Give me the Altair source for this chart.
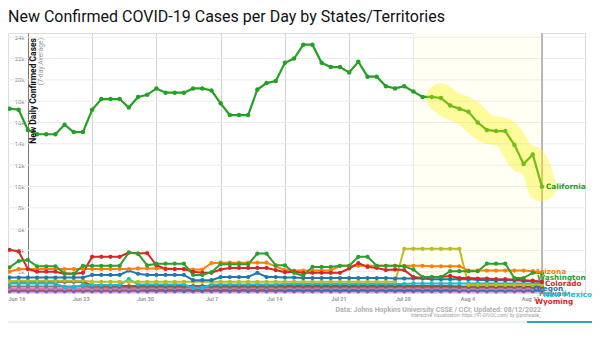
import altair as alt
import pandas as pd

# ---------------- data (thousands of cases, 7-day average) ----------------
dates = pd.date_range("2022-06-14", "2022-08-11", freq="D")

california = [17.3, 17.2, 15.3, 14.9, 14.9, 14.9, 15.8, 15.1, 15.1,
              17.2, 18.2, 18.2, 18.2, 17.4, 18.4, 18.6,
              19.2, 18.8, 18.8, 18.8, 19.2, 19.2, 19.0,
              17.8, 16.7, 16.7, 16.7, 19.1, 19.7, 19.9,
              21.6, 22.0, 23.3, 23.3, 21.6, 21.2, 21.2,
              20.7, 21.7, 20.3, 20.3, 19.4, 19.2, 19.4,
              18.9, 18.4, 18.4, 18.3, 17.6, 17.3, 17.0,
              16.0, 15.3, 15.2, 15.2, 13.9, 12.1, 13.0, 9.97]
colorado = [4.05, 3.9, 2.25, 2.0, 2.0, 2.0, 1.8, 1.8, 1.9,
            3.4, 3.4, 3.4, 3.4, 3.8, 3.7, 3.75,
            2.6, 2.25, 2.25, 2.25, 2.0, 1.9, 1.9,
            2.2, 2.35, 2.35, 2.35, 2.35, 2.35, 2.15,
            1.95, 2.0, 1.9, 1.9, 1.9, 1.9, 1.9,
            2.3, 2.8, 2.45, 2.35, 2.15, 2.2, 2.15,
            1.5, 1.4, 1.5, 1.5, 1.6, 1.4, 1.4,
            1.35, 1.35, 1.3, 1.3, 1.25, 1.2, 1.15, 1.05]
washington = [2.4, 3.0, 3.1, 2.5, 2.5, 2.5, 1.85, 1.8, 2.55,
              2.55, 2.55, 2.55, 2.55, 3.8, 3.7, 2.6,
              2.75, 2.75, 2.75, 2.75, 1.7, 1.7, 1.95,
              2.7, 2.7, 2.7, 2.7, 3.7, 3.7, 2.6,
              2.6, 1.9, 1.6, 2.45, 2.45, 2.45, 2.55,
              2.55, 3.4, 3.4, 2.55, 2.55, 2.55, 2.5,
              2.2, 1.5, 1.5, 1.5, 2.05, 2.05, 2.05,
              2.05, 2.75, 2.75, 2.75, 1.4, 1.4, 1.9, 1.85]
arizona = [2.0, 2.25, 2.25, 2.25, 2.25, 2.25, 2.25, 2.25, 2.25,
           2.25, 2.25, 2.25, 2.25, 2.25, 2.3, 2.3,
           2.3, 2.3, 2.25, 2.25, 2.2, 2.2, 2.8,
           2.85, 2.85, 2.85, 2.85, 2.85, 2.85, 2.5,
           2.15, 2.1, 2.1, 2.1, 2.1, 2.1, 2.55,
           2.55, 2.55, 2.55, 2.55, 2.55, 2.55, 2.55,
           2.55, 2.55, 2.5, 2.5, 2.5, 2.5, 2.1,
           2.1, 2.1, 2.1, 2.1, 2.1, 2.1, 2.05, 1.9]
oregon = [1.45, 1.45, 1.45, 1.45, 1.45, 1.45, 1.45, 1.45, 1.45,
          1.7, 1.7, 1.7, 1.7, 2.1, 1.8, 1.7,
          1.7, 1.7, 1.7, 1.7, 1.2, 1.2, 1.2,
          1.5, 1.5, 1.5, 1.5, 1.9, 1.5, 1.5,
          1.45, 1.45, 1.4, 1.4, 1.4, 1.4, 1.4,
          1.4, 1.4, 1.4, 1.4, 1.4, 1.35, 1.35,
          1.35, 1.35, 1.3, 1.3, 1.3, 1.3, 1.3,
          1.25, 1.2, 1.2, 1.2, 1.2, 1.15, 1.1, 1.05]
nevada = [1.1, 1.15, 1.15, 1.15, 1.15, 1.15, 1.15, 1.15, 1.15,
          1.05, 1.05, 1.05, 1.05, 1.05, 1.05, 1.05,
          1.05, 1.05, 1.05, 1.05, 1.05, 1.05, 1.05,
          1.05, 1.05, 1.05, 1.05, 1.05, 1.05, 1.05,
          1.05, 1.05, 1.05, 1.05, 1.05, 1.05, 1.05,
          1.05, 1.05, 1.05, 1.05, 1.05, 1.05, 4.15,
          4.15, 4.15, 4.15, 4.15, 4.15, 4.15, 0.75,
          0.75, 0.75, 0.75, 0.75, 0.75, 0.75, 0.75, 0.75]
utah = [1.05, 1.05, 1.05, 1.05, 1.05, 1.05, 1.05, 1.05, 1.05,
        0.7, 0.65, 0.65, 0.65, 0.65, 0.65, 0.65,
        0.65, 0.65, 0.65, 0.65, 0.65, 0.65, 0.65,
        0.65, 0.65, 0.65, 0.65, 0.65, 0.65, 0.65,
        0.65, 0.65, 0.65, 0.65, 0.65, 0.65, 0.65,
        0.65, 0.65, 0.65, 0.65, 0.65, 0.65, 0.65,
        0.65, 0.65, 0.65, 0.65, 0.65, 0.6, 0.6,
        0.6, 0.6, 0.6, 0.6, 0.6, 0.6, 0.6, 0.6]
new_mexico = [0.9, 0.9, 0.9, 0.9, 0.9, 0.9, 0.55, 0.55, 0.75,
              0.75, 0.75, 0.75, 0.75, 1.3, 0.8, 0.8,
              0.8, 0.8, 0.8, 0.8, 0.5, 0.5, 0.8,
              0.8, 0.8, 0.8, 0.8, 0.8, 0.8, 0.8,
              0.85, 0.85, 0.85, 0.85, 0.85, 0.85, 0.85,
              0.85, 0.85, 0.85, 0.85, 0.85, 0.85, 0.85,
              0.9, 0.9, 0.9, 0.9, 0.9, 0.9, 0.9,
              0.9, 0.9, 0.9, 0.9, 0.9, 0.9, 0.9, 0.9]
hawaii = [0.6, 0.6, 0.6, 0.6, 0.6, 0.6, 0.6, 0.6, 0.6,
          0.55, 0.55, 0.55, 0.55, 0.55, 0.55, 0.55,
          0.55, 0.55, 0.55, 0.55, 0.55, 0.55, 0.55,
          0.55, 0.55, 0.55, 0.55, 0.55, 0.55, 0.55,
          0.55, 0.55, 0.55, 0.55, 0.55, 0.55, 0.55,
          0.55, 0.55, 0.55, 0.55, 0.55, 0.55, 0.55,
          0.55, 0.55, 0.55, 0.55, 0.55, 0.55, 0.55,
          0.55, 0.55, 0.55, 0.55, 0.55, 0.55, 0.55, 0.55]
idaho = [0.4, 0.4, 0.4, 0.4, 0.4, 0.4, 0.4, 0.4, 0.4,
         0.4, 0.4, 0.4, 0.4, 0.4, 0.4, 0.45,
         0.45, 0.45, 0.45, 0.45, 0.45, 0.45, 0.45,
         0.45, 0.45, 0.45, 0.45, 0.45, 0.45, 0.45,
         0.45, 0.45, 0.45, 0.45, 0.45, 0.45, 0.45,
         0.45, 0.45, 0.45, 0.45, 0.45, 0.45, 0.45,
         0.45, 0.45, 0.45, 0.45, 0.45, 0.4, 0.4,
         0.4, 0.4, 0.4, 0.4, 0.4, 0.4, 0.4, 0.4]
alaska = [0.35, 0.35, 0.35, 0.35, 0.35, 0.35, 0.35, 0.35, 0.35,
          0.35, 0.35, 0.35, 0.35, 0.35, 0.35, 0.35,
          0.35, 0.35, 0.35, 0.35, 0.35, 0.35, 0.35,
          0.35, 0.35, 0.35, 0.35, 0.35, 0.35, 0.35,
          0.3, 0.3, 0.3, 0.3, 0.3, 0.3, 0.3,
          0.3, 0.3, 0.3, 0.3, 0.3, 0.3, 0.3,
          0.3, 0.3, 0.3, 0.3, 0.3, 0.3, 0.3,
          0.3, 0.3, 0.3, 0.3, 0.3, 0.3, 0.3, 0.3]
wyoming = [0.3, 0.3, 0.3, 0.3, 0.3, 0.3, 0.3, 0.3, 0.3,
           0.3, 0.3, 0.3, 0.3, 0.3, 0.3, 0.3,
           0.3, 0.3, 0.3, 0.3, 0.3, 0.3, 0.3,
           0.3, 0.3, 0.3, 0.3, 0.3, 0.3, 0.3,
           0.3, 0.3, 0.3, 0.3, 0.3, 0.3, 0.3,
           0.3, 0.3, 0.3, 0.3, 0.3, 0.3, 0.3,
           0.3, 0.3, 0.3, 0.3, 0.3, 0.3, 0.3,
           0.3, 0.3, 0.3, 0.3, 0.3, 0.3, 0.3, 0.3]
montana = [0.15, 0.15, 0.15, 0.15, 0.15, 0.15, 0.15, 0.15, 0.15,
           0.15, 0.15, 0.15, 0.15, 0.15, 0.15, 0.15,
           0.15, 0.15, 0.15, 0.15, 0.15, 0.15, 0.15,
           0.15, 0.15, 0.15, 0.15, 0.15, 0.15, 0.15,
           0.15, 0.15, 0.15, 0.15, 0.15, 0.15, 0.15,
           0.15, 0.15, 0.15, 0.15, 0.15, 0.15, 0.15,
           0.15, 0.15, 0.15, 0.15, 0.15, 0.15, 0.15,
           0.15, 0.15, 0.15, 0.15, 0.15, 0.15, 0.15, 0.15]

small_states = {
    "Montana": montana, "Wyoming": wyoming, "Alaska": alaska, "Idaho": idaho,
    "Hawaii": hawaii, "Utah": utah, "New Mexico": new_mexico, "Nevada": nevada,
    "Oregon": oregon, "Arizona": arizona, "Colorado": colorado,
    "Washington": washington,
}
state_colors = {
    "Montana": "#9467bd", "Wyoming": "#d62728", "Alaska": "#1f77b4",
    "Idaho": "#e377c2", "Hawaii": "#7f7f7f", "Utah": "#8c564b",
    "New Mexico": "#17becf", "Nevada": "#bcbd22", "Oregon": "#1f77b4",
    "Arizona": "#ff7f0e", "Colorado": "#d62728", "Washington": "#2ca02c",
    "California": "#24a024",
}

week_ticks = [2, 9, 16, 23, 30, 37, 44, 51, 58]      # Jun 16 ... Aug 11
y_ticks = list(range(2000, 26000, 2000))
recent_start, today = 44, 58                            # Jul 28, Aug 11
highlight_from = 47

rows = []
for s, vals in small_states.items():
    for i, v in enumerate(vals):
        rows.append({"state": s, "day": i, "date": dates[i].strftime("%Y-%m-%d"), "cases": v * 1000})
small_df = pd.DataFrame(rows)
ca_df = pd.DataFrame({"state": "California", "day": range(len(california)),
                      "cases": [v * 1000 for v in california]})
hl_df = ca_df[ca_df.day >= highlight_from]

# ---------------- scales / axes ----------------
W, H = 577, 260
xs = alt.Scale(domain=[-0.1634, 62.69], nice=False, zero=False)
ys = alt.Scale(domain=[0, 24400], nice=False, zero=False)
cs = alt.Scale(domain=list(state_colors.keys()), range=list(state_colors.values()))

FONT = "Roboto"

x_axis = alt.Axis(values=week_ticks, grid=True, gridColor="#d2d2d2", gridWidth=1,
                  ticks=False, domain=False, labelAlign="right", labelOffset=-3,
                  labelPadding=3, labelBaseline="top", labelFontSize=5.5, labelFont=FONT,
                  labelColor="#999999", labelFontWeight="bold", labelFlush=False,
                  labelOverlap=False, title=None,
                  labelExpr="timeFormat(datetime(2022,5,14+datum.value),'%b %-d')")
y_axis = alt.Axis(values=y_ticks, grid=False, ticks=False, domain=True,
                  domainColor="#777777", domainWidth=1, offset=-20, labelPadding=4,
                  labelFontSize=6, labelFont=FONT, labelColor="#808080",
                  labelExpr="(datum.value/1000) + 'k'", title=None)


def X(field="day"):
    return alt.X(f"{field}:Q", scale=xs, axis=x_axis)


def Y(field="cases"):
    return alt.Y(f"{field}:Q", scale=ys, axis=y_axis)


# background for the most recent two weeks
recent_df = pd.DataFrame({"day": [recent_start], "day2": [today]})
recent = alt.Chart(recent_df).mark_rect(color="#fffff4").encode(
    x=X(), x2="day2:Q", y=alt.value(0), y2=alt.value(H))

ygrid = alt.Chart(pd.DataFrame({"cases": y_ticks})).mark_rule(color="#ebebeb", strokeWidth=1).encode(
    y=Y())

today_rule = alt.Chart(pd.DataFrame({"day": [today]})).mark_rule(color="#8a8a8a", strokeWidth=1).encode(
    x=X(), y=alt.value(0), y2=alt.value(H))

color_enc = alt.Color("state:N", scale=cs, legend=None)

small_lines = alt.Chart(small_df).mark_line(strokeWidth=2).encode(
    x=X(), y=Y(), color=color_enc, detail="state:N")
small_pts = alt.Chart(small_df).mark_circle(size=18, opacity=1).encode(
    x=X(), y=Y(), color=color_enc)

ca_line = alt.Chart(ca_df).mark_line(strokeWidth=2.2).encode(x=X(), y=Y(), color=color_enc)
ca_pts = alt.Chart(ca_df).mark_circle(size=20, opacity=1).encode(x=X(), y=Y(), color=color_enc)

highlight = alt.Chart(hl_df).mark_line(color="#fff000", opacity=0.36, strokeWidth=29,
                                       strokeCap="round", strokeJoin="round",
                                       interpolate="basis").encode(x=X(), y=Y())

# end-of-line labels (pixel nudges to avoid collisions)
label_layout = [
    ("Hawaii", -3, 7), ("Oregon", -9, 7), ("California", 4, 0), ("Arizona", -7, -1),
    ("Washington", -5, 5), ("Colorado", 3, 2), ("New Mexico", 1, 12), ("Wyoming", -7, 12),
]
all_last = {s: v[-1] * 1000 for s, v in small_states.items()}
all_last["California"] = california[-1] * 1000
label_layers = []
for s, dx, dy in label_layout:
    df = pd.DataFrame({"state": [s], "day": [today], "cases": [all_last[s]]})
    label_layers.append(
        alt.Chart(df).mark_text(align="left", baseline="middle", dx=dx, dy=dy,
                                font="DejaVu Sans", fontWeight="bold", fontSize=7.3).encode(
            x=X(), y=Y(), text="state:N", color=color_enc))

one = pd.DataFrame({"k": [0]})
ytitle = alt.Chart(one).mark_text(angle=270, align="right", baseline="top", font=FONT,
                                  fontWeight="bold", fontSize=8.5, color="#111111").encode(
    x=alt.value(21), y=alt.value(5), text=alt.value("New Daily Confirmed Cases"))
ysub = alt.Chart(one).mark_text(angle=270, align="right", baseline="top", font=FONT,
                                fontSize=6.8, color="#999999").encode(
    x=alt.value(30), y=alt.value(5), text=alt.value("(7-day Average)"))
src1 = alt.Chart(one).mark_text(align="right", baseline="middle", font=FONT,
                                fontWeight="bold", fontSize=7, color="#b0b0b0").encode(
    x=alt.value(533), y=alt.value(276.5),
    text=alt.value("Data: Johns Hopkins University CSSE / CCI; Updated: 08/12/2022"))
src2 = alt.Chart(one).mark_text(align="right", baseline="middle", font=FONT,
                                fontSize=4.6, color="#a0a0a0").encode(
    x=alt.value(533), y=alt.value(283),
    text=alt.value("Interactive Visualization: https://91-DIVOC.com/ by @profwade_"))
bottom_line = alt.Chart(one).mark_rule(color="#e2e2e2", strokeWidth=1).encode(
    x=alt.value(0), x2=alt.value(584), y=alt.value(289))
slider = alt.Chart(one).mark_rule(color="#2aa6b8", strokeWidth=2).encode(
    x=alt.value(519), x2=alt.value(584), y=alt.value(289))

chart = alt.layer(
    recent, ygrid, today_rule, small_lines, small_pts, ca_line, ca_pts, highlight,
    *label_layers, ytitle, ysub, src1, src2, bottom_line, slider,
).properties(
    width=W, height=H,
    autosize=alt.AutoSizeParams(type="none"),
    padding={"left": 0, "top": 25, "right": 7, "bottom": 45},
    title=alt.TitleParams("New Confirmed COVID-19 Cases per Day by States/Territories",
                          anchor="start", frame="group", fontSize=16, font=FONT,
                          fontWeight="normal", color="#111111", offset=8),
).configure_view(stroke="#e8e8e8").configure(background="white")

chart.save("out.html", embed_options={"renderer": "svg", "actions": False})
